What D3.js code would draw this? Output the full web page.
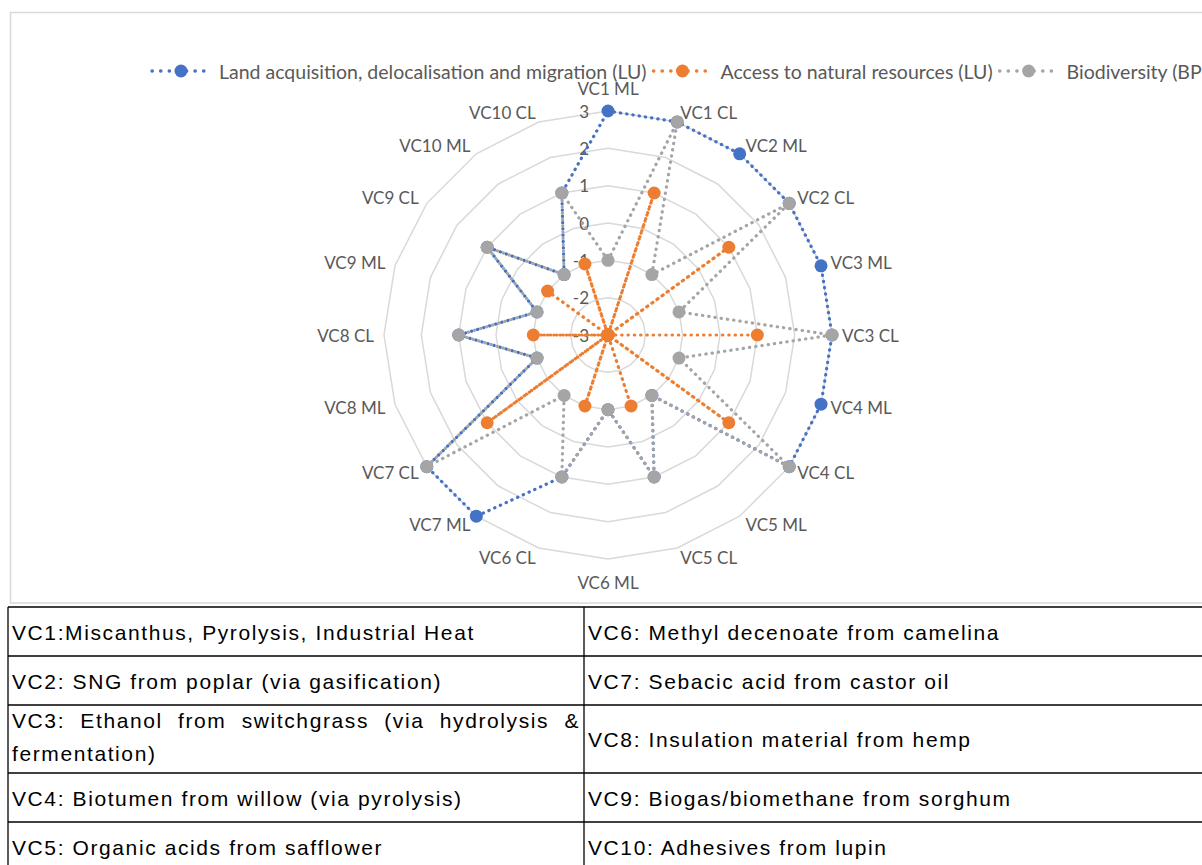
<!DOCTYPE html>
<html>
<head>
<meta charset="utf-8">
<script src="https://cdn.jsdelivr.net/npm/d3@7"></script>
<style>
  body { margin: 0; background: #fff; overflow: hidden; }
  svg { display: block; }
</style>
</head>
<body>
<svg id="chart" width="1202" height="865"></svg>
<script>
// radar axes, clockwise from the top
const categories = ["VC1 ML", "VC1 CL", "VC2 ML", "VC2 CL", "VC3 ML", "VC3 CL", "VC4 ML", "VC4 CL",
  "VC5 ML", "VC5 CL", "VC6 ML", "VC6 CL", "VC7 ML", "VC7 CL", "VC8 ML", "VC8 CL",
  "VC9 ML", "VC9 CL", "VC10 ML", "VC10 CL"];

const landAcquisition = [3, 3, 3, 3, 3, 3, 3, 3, -1, 1, -1, 1, 3, 3, -1, 1, -1, 1, -1, 1];
const naturalResources = [-3, 1, -3, 1, -3, 1, -3, 1, -3, -1, -3, -1, -3, 1, -3, -1, -3, -1, -3, -1];
const biodiversity = [-1, 3, -1, 3, -1, 3, -1, 3, -1, 1, -1, 1, -1, 3, -1, 1, -1, 1, -1, 1];

const seriesNames = ["Land acquisition, delocalisation and migration (LU)", "Access to natural resources (LU)", "Biodiversity (BP)"];
const tickValues = [-3, -2, -1, 0, 1, 2, 3];

const tableLeft = ["VC1:Miscanthus, Pyrolysis, Industrial Heat",
  "VC2: SNG from poplar (via gasification)",
  "VC3: Ethanol from switchgrass (via hydrolysis & fermentation)",
  "VC4: Biotumen from willow (via pyrolysis)",
  "VC5: Organic acids from safflower"];
const tableRight = ["VC6: Methyl decenoate from camelina",
  "VC7: Sebacic acid from castor oil",
  "VC8: Insulation material from hemp",
  "VC9: Biogas/biomethane from sorghum",
  "VC10: Adhesives from lupin"];

var svg = d3.select("#chart");
var colors = ["#4472C4", "#ED7D31", "#A5A5A5"];
var textGray = "#595959";
var labelFont = "Lato, 'Open Sans', sans-serif";

// chart area frame
svg.append("rect")
  .attr("x", 10.5).attr("y", 12.5)
  .attr("width", 1260).attr("height", 590.5)
  .attr("fill", "#fff")
  .attr("stroke", "#d9d9d9").attr("stroke-width", 1.5);

var cx = 608, cy = 335, R = 224;
var r = d3.scaleLinear().domain([-3, 3]).range([0, R]);
var angle = d3.scalePoint().domain(categories).range([0, 2 * Math.PI * 19 / 20]);

var plot = svg.append("g").attr("transform", "translate(" + cx + "," + cy + ")");

// grid rings (20-sided polygons)
var ring = d3.lineRadial()
  .angle(function(d) { return angle(d); })
  .curve(d3.curveLinearClosed);

plot.selectAll(".ring")
  .data(tickValues.filter(function(v) { return v > -3; }))
  .enter().append("path")
  .attr("class", "ring")
  .attr("d", function(v) { return ring.radius(r(v))(categories); })
  .attr("fill", "none")
  .attr("stroke", "#d9d9d9")
  .attr("stroke-width", 1.5);

// value labels along the top axis
plot.selectAll(".tick")
  .data(tickValues)
  .enter().append("text")
  .attr("class", "tick")
  .attr("x", -19)
  .attr("y", function(v) { return -r(v); })
  .attr("text-anchor", "end")
  .attr("dominant-baseline", "central")
  .attr("font-family", labelFont)
  .attr("font-size", 17)
  .attr("fill", textGray)
  .text(function(v) { return v; });

// category labels
var labelR = R + 10;
plot.selectAll(".cat")
  .data(categories)
  .enter().append("text")
  .attr("class", "cat")
  .attr("x", function(d) { return labelR * Math.sin(angle(d)); })
  .attr("y", function(d) {
    var c = Math.cos(angle(d));
    return -labelR * c + (c > 0.99 ? -13 : c < -0.99 ? 13 : 0);
  })
  .attr("text-anchor", function(d) {
    var s = Math.sin(angle(d));
    return Math.abs(s) < 0.01 ? "middle" : s > 0 ? "start" : "end";
  })
  .attr("dominant-baseline", "central")
  .attr("font-family", labelFont)
  .attr("font-size", 17)
  .attr("fill", textGray)
  .text(function(d) { return d; });

// series
var series = [landAcquisition, naturalResources, biodiversity];
var line = d3.lineRadial()
  .angle(function(d, i) { return angle(categories[i]); })
  .radius(function(d) { return r(d); })
  .curve(d3.curveLinearClosed);

series.forEach(function(values, k) {
  var g = plot.append("g").attr("class", "series");
  g.append("path")
    .attr("d", line(values))
    .attr("fill", "none")
    .attr("stroke", colors[k])
    .attr("stroke-width", 3.2)
    .attr("stroke-linecap", "round")
    .attr("stroke-dasharray", "0.3 6");
  g.selectAll("circle")
    .data(values)
    .enter().append("circle")
    .attr("cx", function(d, i) { return r(d) * Math.sin(angle(categories[i])); })
    .attr("cy", function(d, i) { return -r(d) * Math.cos(angle(categories[i])); })
    .attr("r", 6.5)
    .attr("fill", colors[k]);
});

// legend
var legend = svg.append("g");
var lx = 152, ly = 71;
seriesNames.forEach(function(name, k) {
  var item = legend.append("g");
  item.append("line")
    .attr("x1", lx).attr("x2", lx + 57)
    .attr("y1", ly).attr("y2", ly)
    .attr("stroke", colors[k])
    .attr("stroke-width", 3.4)
    .attr("stroke-linecap", "round")
    .attr("stroke-dasharray", "0.3 8.3");
  item.append("circle")
    .attr("cx", lx + 29).attr("cy", ly)
    .attr("r", 6.5)
    .attr("fill", colors[k]);
  var t = item.append("text")
    .attr("x", lx + 67).attr("y", ly)
    .attr("dominant-baseline", "central")
    .attr("font-family", labelFont)
    .attr("font-size", 19.5)
    .attr("fill", textGray)
    .text(name);
  lx = lx + 67 + t.node().getComputedTextLength() + 7;
});

// description table
var rowEdges = [607, 656, 705, 773, 822, 871];
var colEdges = [8, 584, 1300];
var tableFont = "'Liberation Sans', Arial, sans-serif";
var table = svg.append("g").attr("class", "table");

rowEdges.forEach(function(y) {
  table.append("line")
    .attr("x1", colEdges[0]).attr("x2", colEdges[2])
    .attr("y1", y).attr("y2", y)
    .attr("stroke", "#000").attr("stroke-width", 1.6);
});
colEdges.forEach(function(x) {
  table.append("line")
    .attr("x1", x).attr("x2", x)
    .attr("y1", rowEdges[0]).attr("y2", rowEdges[rowEdges.length - 1])
    .attr("stroke", "#000").attr("stroke-width", 1.3);
});

var probe = table.append("text")
  .attr("font-family", tableFont).attr("font-size", 21)
  .attr("letter-spacing", 1.6)
  .attr("fill", "none");
function width(s) { probe.text(s); return probe.node().getComputedTextLength(); }

function addText(x, y, s) {
  table.append("text")
    .attr("x", x).attr("y", y)
    .attr("font-family", tableFont).attr("font-size", 21)
    .attr("letter-spacing", 1.6)
    .attr("fill", "#000")
    .text(s);
}

function cellText(str, col, row) {
  var x0 = colEdges[col] + 4, maxW = colEdges[1] - colEdges[0] - 10;
  var words = str.split(" ");
  // greedy wrap
  var lines = [], cur = [];
  words.forEach(function(w) {
    var test = cur.concat([w]).join(" ");
    if (cur.length && width(test) > maxW) { lines.push(cur); cur = [w]; }
    else cur.push(w);
  });
  lines.push(cur);
  var mid = (rowEdges[row] + rowEdges[row + 1]) / 2;
  lines.forEach(function(ws, li) {
    var base = mid + 8 + (li - (lines.length - 1) / 2) * 33 - (lines.length > 1 ? 3 : 0);
    if (li === lines.length - 1) {
      addText(x0, base, ws.join(" "));
      return;
    }
    // justified line
    var widths = ws.map(width);
    var gap = (maxW + 2 - d3.sum(widths)) / (ws.length - 1);
    var x = x0;
    ws.forEach(function(w, i) {
      addText(x, base, w);
      x += widths[i] + gap;
    });
  });
}

tableLeft.forEach(function(s, i) { cellText(s, 0, i); });
tableRight.forEach(function(s, i) { cellText(s, 1, i); });
probe.remove();
</script>
</body>
</html>
